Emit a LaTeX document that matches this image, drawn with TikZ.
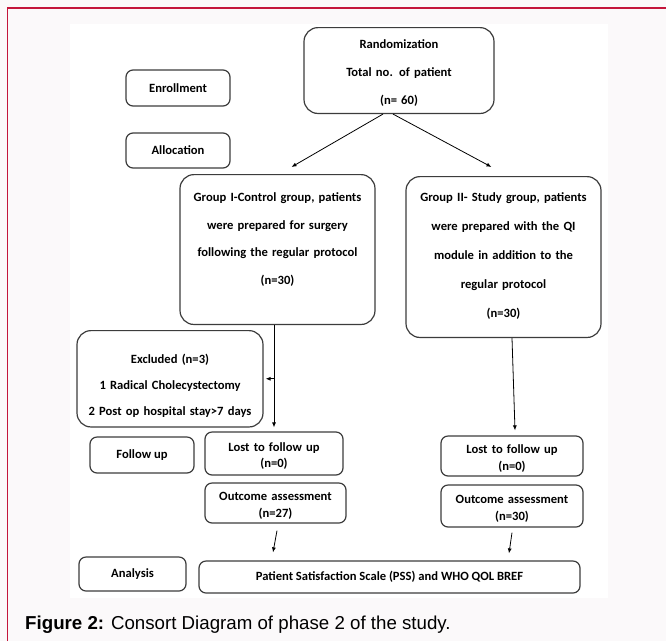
\documentclass[tikz,border=0pt]{standalone}
\usepackage{fontspec}
\setmainfont{Carlito}
\newfontfamily\capfont{Liberation Sans}
\usetikzlibrary{arrows.meta}
\definecolor{pagebg}{RGB}{251,249,250}
\definecolor{framered}{RGB}{196,22,60}
\definecolor{boxgray}{RGB}{60,60,60}

\begin{document}
\begin{tikzpicture}[x=1pt,y=-1pt,
    box/.style={draw=boxgray, line width=1.2pt, rounded corners=7pt, align=center,
        inner sep=0pt, font=\bfseries\fontsize{12.6}{16.5}\selectfont},
    twoline/.style={box, text height=14pt},
    bigbox/.style={box, rounded corners=14pt, anchor=north, font=\bfseries\fontsize{12.6}{#1}\selectfont},
    arr/.style={-{Latex[length=5pt,width=4pt]}, line width=0.8pt}]
    \useasboundingbox (0,0) rectangle (666,641);
    \fill[pagebg] (0,0) rectangle (666,641);
    \fill[white] (70,24) rectangle (608,598);
    \draw[framered, line width=1.5pt] (7.5,641) -- (7.5,8) -- (666,8);

    % stage labels on the left
    \node[box, minimum width=104, minimum height=36] (enroll) at (178,88) {Enrollment};
    \node[box, minimum width=104, minimum height=35] (alloc) at (178,150.5) {Allocation};
    \node[box, minimum width=104, minimum height=36] (follow) at (142,455) {Follow up};
    \node[box, minimum width=107, minimum height=34] (analysis) at (132.5,574) {Analysis};

    % main flow
    \node[bigbox=28, text width=190, inner ysep=12.5, text depth=52] (rand) at (399,27)
        {Randomization\\Total no. of patient\\(n= 60)};
    \node[bigbox=27.5, text width=195, inner ysep=18.5, text depth=104] (g1) at (277.5,174)
        {Group I-Control group, patients\\were prepared for surgery\\following the regular protocol\\(n=30)};
    \node[bigbox=29, text width=195, inner ysep=16.5, text depth=119] (g2) at (503.5,176)
        {Group II- Study group, patients\\were prepared with the QI\\module in addition to the\\regular protocol\\(n=30)};
    \node[bigbox=26, text width=186, inner ysep=23.5, text depth=40] (excl) at (170,330)
        {Excluded (n=3)\\1 Radical Cholecystectomy\\2 Post op hospital stay>7 days};
    \node[twoline, text width=138, minimum height=43] (lost1) at (274,453.5) {Lost to follow up\\(n=0)};
    \node[twoline, text width=141, minimum height=40] (out1) at (275.5,503) {Outcome assessment\\(n=27)};
    \node[twoline, text width=142, minimum height=40] (lost2) at (512,456) {Lost to follow up\\(n=0)};
    \node[twoline, text width=142, minimum height=42] (out2) at (512,506) {Outcome assessment\\(n=30)};
    \node[box, minimum width=381, minimum height=32] (pss) at (389.5,577)
        {Patient Satisfaction Scale (PSS) and WHO QOL BREF};

    \draw[arr] ([xshift=-16pt]rand.south) -- ([xshift=14pt,yshift=7pt]g1.north);
    \draw[arr] ([xshift=-6pt]rand.south) -- ([xshift=-12pt,yshift=9pt]g2.north);
    \draw[arr] (lost1.north |- g1.south) -- ([yshift=4pt]lost1.north);
    \draw[arr] (lost1.north |- excl.east) -- ([xshift=2pt]excl.east);
    \draw[arr] ([xshift=8.5pt]g2.south) -- ([xshift=3pt,yshift=5pt]lost2.north);
    \draw[arr] ([xshift=1.5pt,yshift=-7pt]out1.south) -- ([xshift=-116.5pt,yshift=8pt]pss.north);
    \draw[arr] ([yshift=-5pt]out2.south) -- ([xshift=119.5pt,yshift=7pt]pss.north);

    \node[anchor=base west, inner sep=0pt, font=\capfont\fontsize{18.7}{22}\selectfont] (caption) at (25,629)
        {\textbf{Figure 2:} Consort Diagram of phase 2 of the study.};
\end{tikzpicture}
\end{document}
